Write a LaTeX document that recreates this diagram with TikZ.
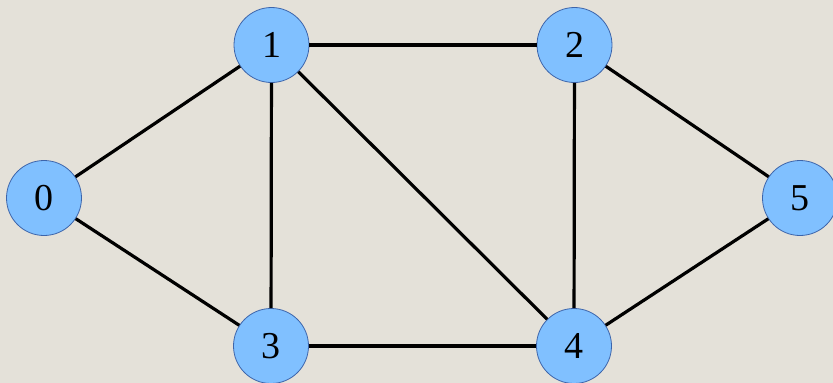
\documentclass[tikz,border=0pt]{standalone}
\usepackage{fontspec}
\setmainfont{Liberation Serif}
\definecolor{bgc}{RGB}{228,225,217}
\definecolor{nodefill}{RGB}{128,192,255}
\definecolor{nodeline}{RGB}{60,100,170}
\begin{document}
\begin{tikzpicture}[x=1pt,y=-1pt,
  vertex/.style={circle,draw=nodeline,line width=0.8pt,fill=nodefill,minimum size=75pt,inner sep=0pt,font=\fontsize{38}{42}\selectfont},
  edge/.style={line width=3.2pt,black}]
\fill[bgc] (0,0) rectangle (833,383);
\useasboundingbox (0,0) rectangle (833,383);
\begin{scope}
\clip (0,0) rectangle (833,383);
\node[vertex] (n0) at (44,198) {0};
\node[vertex] (n1) at (271.5,45) {1};
\node[vertex] (n2) at (574.5,45) {2};
\node[vertex] (n3) at (271,346) {3};
\node[vertex] (n4) at (574,346) {4};
\node[vertex] (n5) at (800,198) {5};
\draw[edge] (n0) -- (n1);
\draw[edge] (n0) -- (n3);
\draw[edge] (n1) -- (n2);
\draw[edge] (n1) -- (n3);
\draw[edge] (n1) -- (n4);
\draw[edge] (n2) -- (n4);
\draw[edge] (n2) -- (n5);
\draw[edge] (n3) -- (n4);
\draw[edge] (n4) -- (n5);
\end{scope}
\end{tikzpicture}
\end{document}
